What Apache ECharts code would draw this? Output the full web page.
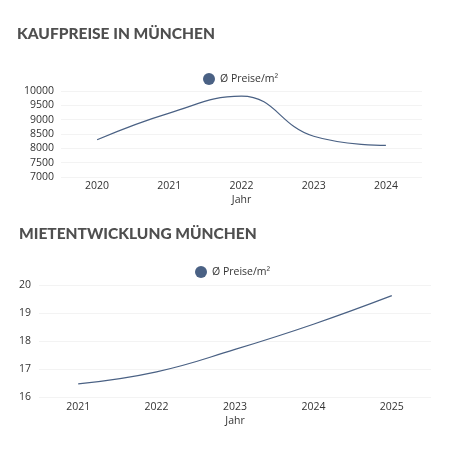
<!DOCTYPE html>
<html>
<head>
<meta charset="utf-8">
<script src="https://cdn.jsdelivr.net/npm/echarts@6/dist/echarts.min.js"></script>
<style>
  html, body { margin: 0; padding: 0; background: #fff; }
  #chart { width: 450px; height: 450px; }
</style>
</head>
<body>
<div id="chart"></div>
<script>
// Kaufpreise (purchase prices) per m2
const kaufYears = ['2020', '2021', '2022', '2023', '2024'];
const kaufPrices = [8300, 9230, 9820, 8420, 8100];

// Mietentwicklung (rent) per m2
const mieteYears = ['2021', '2022', '2023', '2024', '2025'];
const mietePrices = [16.47, 16.9, 17.7, 18.6, 19.62];

const lineColor = '#4a6184';
const labelFont = '"Open Sans", sans-serif';
const axisLabel = {color: '#333', fontSize: 10.5, fontFamily: labelFont};

const titleStyle = {
    color: '#4f4f4f',
    fontSize: 15.5,
    fontWeight: 900,
    fontFamily: 'Lato, sans-serif',
};

const chart = echarts.init(document.getElementById('chart'));

chart.setOption({
    animation: false,
    title: [
        {text: 'KAUFPREISE IN MÜNCHEN', left: 12, top: 21, textStyle: titleStyle},
        {text: 'MIETENTWICKLUNG MÜNCHEN', left: 14, top: 221, textStyle: titleStyle},
    ],
    legend: [
        {
            data: [{name: 'kauf', icon: 'circle'}],
            formatter: () => 'Ø Preise/m²',
            left: 198, top: 68,
            itemWidth: 12, itemHeight: 12, itemGap: 5,
            textStyle: axisLabel,
        },
        {
            data: [{name: 'miete', icon: 'circle'}],
            formatter: () => 'Ø Preise/m²',
            left: 190, top: 261,
            itemWidth: 12, itemHeight: 12, itemGap: 5,
            textStyle: axisLabel,
        },
    ],
    grid: [
        {left: 61, right: 28, top: 91, height: 86},
        {left: 39, right: 19, top: 285, height: 112},
    ],
    xAxis: [
        {
            gridIndex: 0, type: 'category', data: kaufYears,
            name: 'Jahr', nameLocation: 'middle', nameGap: 18,
            nameTextStyle: axisLabel,
            axisLine: {show: false}, axisTick: {show: false},
            axisLabel: {...axisLabel, margin: 4},
        },
        {
            gridIndex: 1, type: 'category', data: mieteYears,
            name: 'Jahr', nameLocation: 'middle', nameGap: 19,
            nameTextStyle: axisLabel,
            axisLine: {show: false}, axisTick: {show: false},
            axisLabel: {...axisLabel, margin: 5},
        },
    ],
    yAxis: [
        {
            gridIndex: 0, type: 'value', min: 7000, max: 10000, interval: 500,
            axisLabel: {...axisLabel, margin: 7, formatter: (v) => String(v)},
            splitLine: {lineStyle: {color: '#f3f3f3'}},
        },
        {
            gridIndex: 1, type: 'value', min: 16, max: 20, interval: 1,
            axisLabel: {...axisLabel, margin: 8},
            splitLine: {lineStyle: {color: '#f3f3f3'}},
        },
    ],
    series: [
        {
            name: 'kauf', type: 'line', xAxisIndex: 0, yAxisIndex: 0,
            data: kaufPrices, smooth: 0.45, showSymbol: false,
            color: lineColor, lineStyle: {width: 1.2, color: lineColor},
        },
        {
            name: 'miete', type: 'line', xAxisIndex: 1, yAxisIndex: 1,
            data: mietePrices, smooth: 0.45, showSymbol: false,
            color: lineColor, lineStyle: {width: 1.2, color: lineColor},
        },
    ],
});
</script>
</body>
</html>
